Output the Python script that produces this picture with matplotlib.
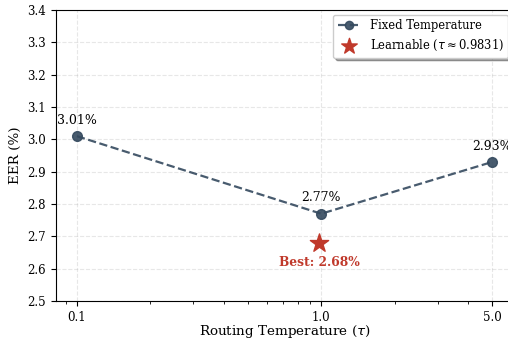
import numpy as np
import matplotlib.pyplot as plt

plt.rcParams['font.family'] = 'DejaVu Serif'

temps = [0.1, 1.0, 5.0]
eer = [3.01, 2.77, 2.93]
tick_labels = ['0.1', '1.0', '5.0']
learn_tau = 0.9831
learn_eer = 2.68

fig = plt.figure(figsize=(5.08, 3.38), dpi=100)
ax = fig.add_axes([0.110, 0.1095, 0.90, 0.8605])

ax.plot(temps, eer, linestyle='--', color='#34495e', marker='o', markersize=7,
        linewidth=1.6, alpha=0.9, label='Fixed Temperature', zorder=3)
ax.scatter([learn_tau], [learn_eer], marker='*', s=190, color='#c0392b',
           label='Learnable ($\\tau \\approx$0.9831)', zorder=4)

for t, e in zip(temps, eer):
    ax.annotate(f'{e:.2f}%', (t, e), textcoords='offset points', xytext=(0, 9),
                ha='center', fontsize=9)
ax.annotate(f'Best: {learn_eer:.2f}%', (learn_tau, learn_eer), textcoords='offset points',
            xytext=(0, -17), ha='center', fontsize=8.8, fontweight='bold', color='#c0392b')

ax.set_xscale('log')
ax.set_xlim(0.082, 6.1)
ax.set_ylim(2.5, 3.4)
ax.set_xticks(temps)
ax.set_xticklabels(tick_labels)
ax.set_yticks(np.arange(2.5, 3.41, 0.1))
ax.tick_params(labelsize=8.5)
ax.set_xlabel('Routing Temperature ($\\tau$)', fontsize=9.7)
ax.xaxis.set_label_coords(0.5, -0.074)
ax.set_ylabel('EER (%)', fontsize=9.7)
ax.grid(True, linestyle='--', alpha=0.3)
ax.spines['right'].set_visible(False)
ax.legend(loc='upper right', fontsize=8.3, shadow=True, fancybox=True, framealpha=1,
          markerscale=0.85, borderaxespad=0.4)

fig.savefig('out.png', dpi=100)
